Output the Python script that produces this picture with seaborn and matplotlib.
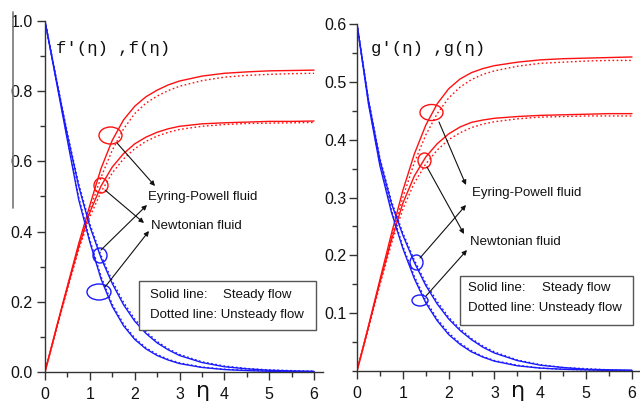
import matplotlib
matplotlib.use("Agg")
import matplotlib.pyplot as plt
from matplotlib.lines import Line2D
from matplotlib.patches import Ellipse, Rectangle, FancyArrowPatch
from matplotlib.ticker import MultipleLocator
import seaborn as sns
import pandas as pd

# similarity variable
eta = [0, 0.25, 0.5, 0.75, 1.0, 1.25, 1.5, 1.75, 2.0, 2.25, 2.5, 2.75,
       3.0, 3.5, 4.0, 4.5, 5.0, 5.5, 6.0]

# f(eta)
f_ep_steady = [0, 0.125, 0.245, 0.365, 0.475, 0.580, 0.660, 0.718, 0.757, 0.784,
               0.803, 0.818, 0.829, 0.843, 0.851, 0.855, 0.858, 0.859, 0.860]
f_ep_unsteady = [0, 0.122, 0.240, 0.355, 0.462, 0.555, 0.632, 0.692, 0.736, 0.766,
                 0.786, 0.802, 0.814, 0.830, 0.840, 0.845, 0.848, 0.850, 0.851]
f_nt_steady = [0, 0.122, 0.240, 0.355, 0.455, 0.530, 0.584, 0.622, 0.650, 0.669,
               0.683, 0.693, 0.700, 0.707, 0.710, 0.712, 0.714, 0.714, 0.715]
f_nt_unsteady = [0, 0.120, 0.236, 0.348, 0.442, 0.513, 0.567, 0.607, 0.636, 0.657,
                 0.672, 0.683, 0.691, 0.700, 0.705, 0.708, 0.709, 0.710, 0.711]

# f'(eta)
fp_ep_steady = [1.0, 0.835, 0.675, 0.530, 0.415, 0.325, 0.252, 0.192, 0.145, 0.110,
                0.083, 0.063, 0.047, 0.027, 0.015, 0.009, 0.005, 0.003, 0.002]
fp_ep_unsteady = [1.0, 0.838, 0.680, 0.537, 0.422, 0.332, 0.259, 0.199, 0.151, 0.115,
                  0.087, 0.066, 0.050, 0.029, 0.017, 0.010, 0.006, 0.004, 0.002]
fp_nt_steady = [1.0, 0.830, 0.660, 0.492, 0.370, 0.265, 0.187, 0.132, 0.093, 0.066,
                0.047, 0.034, 0.024, 0.013, 0.007, 0.004, 0.002, 0.001, 0.001]
fp_nt_unsteady = [1.0, 0.833, 0.665, 0.499, 0.377, 0.272, 0.193, 0.137, 0.097, 0.069,
                  0.050, 0.036, 0.026, 0.014, 0.008, 0.005, 0.003, 0.002, 0.001]

# g(eta)
g_ep_steady = [0, 0.078, 0.158, 0.237, 0.312, 0.375, 0.425, 0.462, 0.488, 0.505,
               0.516, 0.523, 0.528, 0.534, 0.538, 0.540, 0.541, 0.542, 0.543]
g_ep_unsteady = [0, 0.076, 0.153, 0.230, 0.300, 0.360, 0.408, 0.445, 0.472, 0.491,
                 0.504, 0.513, 0.519, 0.527, 0.532, 0.534, 0.536, 0.537, 0.537]
g_nt_steady = [0, 0.076, 0.153, 0.226, 0.290, 0.337, 0.370, 0.393, 0.410, 0.422,
               0.430, 0.434, 0.437, 0.440, 0.442, 0.443, 0.444, 0.445, 0.445]
g_nt_unsteady = [0, 0.074, 0.149, 0.220, 0.280, 0.325, 0.358, 0.382, 0.400, 0.412,
                 0.421, 0.427, 0.431, 0.436, 0.439, 0.440, 0.441, 0.441, 0.441]

# g'(eta)
gp_ep_steady = [0.600, 0.468, 0.365, 0.290, 0.235, 0.188, 0.148, 0.116, 0.090, 0.070,
                0.054, 0.041, 0.031, 0.018, 0.010, 0.006, 0.003, 0.002, 0.001]
gp_ep_unsteady = [0.600, 0.470, 0.368, 0.294, 0.239, 0.192, 0.152, 0.120, 0.093, 0.073,
                  0.056, 0.043, 0.033, 0.019, 0.011, 0.006, 0.004, 0.002, 0.001]
gp_nt_steady = [0.600, 0.462, 0.355, 0.275, 0.212, 0.160, 0.118, 0.087, 0.063, 0.046,
                0.033, 0.024, 0.017, 0.009, 0.005, 0.003, 0.002, 0.001, 0.001]
gp_nt_unsteady = [0.600, 0.464, 0.358, 0.279, 0.216, 0.164, 0.122, 0.090, 0.066, 0.048,
                  0.035, 0.025, 0.018, 0.010, 0.005, 0.003, 0.002, 0.001, 0.001]

x_ticks = [0, 1, 2, 3, 4, 5, 6]
f_yticks = [0.0, 0.2, 0.4, 0.6, 0.8, 1.0]
g_yticks = [0.1, 0.2, 0.3, 0.4, 0.5, 0.6]

sns.set_style("ticks")
plt.rcParams["font.family"] = ["Liberation Sans", "DejaVu Sans"]

W, H = 640, 403
fig = plt.figure(figsize=(6.4, 4.03), dpi=100)


def fx(x):
    return x / W


def fy(y):
    return 1 - y / H


ax1 = fig.add_axes([fx(45), fy(372), fx(323 - 45), (372 - 21) / H])
ax2 = fig.add_axes([fx(357), fy(371), fx(640 - 357), (371 - 24) / H])

RED = "#ff1010"
BLUE = "#1a1aff"
DOT = (0, (1.2, 1.8))


def draw(ax, curves):
    for vals, color, ls in curves:
        df = pd.DataFrame({"eta": eta, "v": vals})
        sns.lineplot(data=df, x="eta", y="v", ax=ax, color=color,
                     linestyle=ls, linewidth=1.0, estimator=None, sort=False)


draw(ax1, [
    (f_ep_steady, RED, "-"), (f_ep_unsteady, RED, DOT),
    (f_nt_steady, RED, "-"), (f_nt_unsteady, RED, DOT),
    (fp_ep_steady, BLUE, "-"), (fp_ep_unsteady, BLUE, DOT),
    (fp_nt_steady, BLUE, "-"), (fp_nt_unsteady, BLUE, DOT),
])
draw(ax2, [
    (g_ep_steady, RED, "-"), (g_ep_unsteady, RED, DOT),
    (g_nt_steady, RED, "-"), (g_nt_unsteady, RED, DOT),
    (gp_ep_steady, BLUE, "-"), (gp_ep_unsteady, BLUE, DOT),
    (gp_nt_steady, BLUE, "-"), (gp_nt_unsteady, BLUE, DOT),
])

ax1.set_xlim(0, 6.2)
ax1.set_ylim(0, 1.0)
ax2.set_xlim(0, 6.175)
ax2.set_ylim(0, 0.6)

for ax, yt, ymin, ypad in ((ax1, f_yticks, 0.1, 3), (ax2, g_yticks, 0.05, 1.5)):
    ax.set_xlabel("")
    ax.set_ylabel("")
    ax.set_xticks(x_ticks)
    ax.set_xticklabels([str(t) for t in x_ticks])
    ax.set_yticks(yt)
    ax.set_yticklabels([f"{t:.1f}" for t in yt])
    ax.xaxis.set_minor_locator(MultipleLocator(0.5))
    ax.yaxis.set_minor_locator(MultipleLocator(ymin))
    ax.tick_params(which="major", direction="out", length=6, width=1.0,
                   color="#333333", labelsize=11.5, labelcolor="#111111")
    ax.tick_params(axis="x", which="major", pad=5)
    ax.tick_params(axis="y", which="major", pad=ypad)
    ax.tick_params(which="minor", direction="out", length=3.5, width=1.0,
                   color="#333333")
    for side in ("top", "right"):
        ax.spines[side].set_visible(False)
    for side in ("left", "bottom"):
        ax.spines[side].set_color("#333333")
        ax.spines[side].set_linewidth(1.0)
    ax.set_facecolor("white")

# panel labels
fig.text(fx(56), fy(53), "f'(η) ,f(η)", family=["Liberation Mono", "DejaVu Sans Mono"],
         fontsize=12.5, color="#111111", va="baseline", ha="left")
fig.text(fx(371), fy(53), "g'(η) ,g(η)", family=["Liberation Mono", "DejaVu Sans Mono"],
         fontsize=12.5, color="#111111", va="baseline", ha="left")

# axis labels
fig.text(fx(203), fy(391), "η", fontsize=16, color="#111111", ha="center", va="center",
         family=["DejaVu Sans"])
fig.text(fx(518), fy(391), "η", fontsize=16, color="#111111", ha="center", va="center",
         family=["DejaVu Sans"])

# thin rule at far left
fig.add_artist(Line2D([fx(13), fx(13)], [fy(12), fy(208)], color="#777777", lw=1.2))


def ellipse(cx, cy, w, h, color):
    fig.add_artist(Ellipse((fx(cx), fy(cy)), w / W, h / H, fill=False,
                           edgecolor=color, lw=1.0, transform=fig.transFigure))


def arrow(x1, y1, x2, y2):
    fig.add_artist(FancyArrowPatch(
        (fx(x1), fy(y1)), (fx(x2), fy(y2)), transform=fig.transFigure,
        arrowstyle="-|>", mutation_scale=7, color="#111111", lw=0.8,
        shrinkA=0, shrinkB=0))


def key_box(x0, y0, x1, y1, tx, ty1, ty2, tx2):
    fig.add_artist(Rectangle((fx(x0), fy(y1)), (x1 - x0) / W, (y1 - y0) / H,
                             transform=fig.transFigure, facecolor="white",
                             edgecolor="#555555", lw=1.0))
    fig.text(fx(tx), fy(ty1), "Solid line:", fontsize=9.5, va="center", ha="left",
             color="#111111")
    fig.text(fx(tx2), fy(ty1), "Steady flow", fontsize=9.5, va="center", ha="left",
             color="#111111")
    fig.text(fx(tx), fy(ty2), "Dotted line: Unsteady flow", fontsize=9.5, va="center",
             ha="left", color="#111111")


# left panel annotations
ellipse(110.5, 135.5, 23, 17, RED)
ellipse(101, 185.5, 14, 15, RED)
ellipse(100, 255.5, 14, 15, BLUE)
ellipse(99, 292, 24, 16, BLUE)
arrow(117, 143, 155, 186)
arrow(105, 190, 144, 223)
arrow(101, 250, 147, 205)
arrow(105, 287, 149, 231)
fig.text(fx(148), fy(197), "Eyring-Powell fluid", fontsize=9.5, va="center",
         ha="left", color="#111111")
fig.text(fx(151), fy(226), "Newtonian fluid", fontsize=9.5, va="center",
         ha="left", color="#111111")
key_box(139, 281, 316, 330, 150, 295, 315, 223)

# right panel annotations
ellipse(431.5, 112.5, 23, 16, RED)
ellipse(424.5, 160.5, 13, 15, RED)
ellipse(416.5, 262.5, 13, 15, BLUE)
ellipse(420, 300.5, 16, 11, BLUE)
arrow(439, 122, 466, 185)
arrow(427, 167, 464, 234)
arrow(420, 258, 466, 205)
arrow(426, 296, 467, 250)
fig.text(fx(472), fy(193), "Eyring-Powell fluid", fontsize=9.5, va="center",
         ha="left", color="#111111")
fig.text(fx(470), fy(242), "Newtonian fluid", fontsize=9.5, va="center",
         ha="left", color="#111111")
key_box(460, 276, 633, 325, 468, 288, 308, 542)

fig.savefig("out.png", dpi=100, facecolor="white")
